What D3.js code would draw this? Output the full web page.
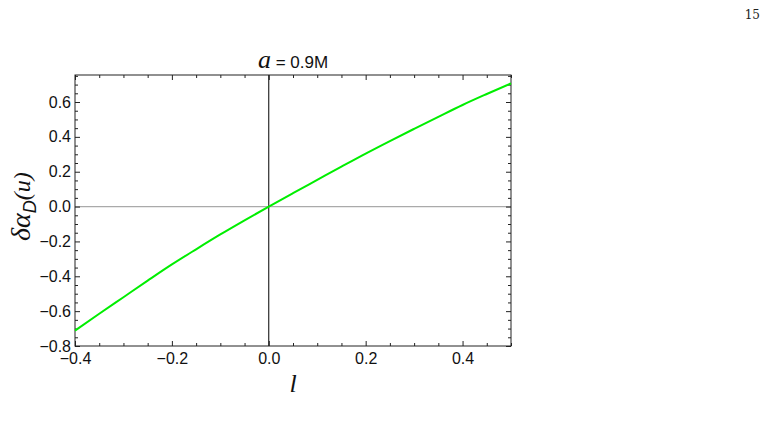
<!DOCTYPE html>
<html>
<head>
<meta charset="utf-8">
<script src="https://cdn.jsdelivr.net/npm/d3@7"></script>
<style>
  body { margin: 0; background: #fff; }
  .axis path { display: none; }
  .axis line { stroke: #222; }
</style>
</head>
<body>
<div id="chart"></div>
<script>
// values
const lValues = [-0.4, -0.35, -0.3, -0.25, -0.2, -0.15, -0.1, -0.05, 0,
                 0.05, 0.1, 0.15, 0.2, 0.25, 0.3, 0.35, 0.4, 0.45, 0.5];
const deltaAlpha = [-0.712, -0.615, -0.520, -0.425, -0.332, -0.245, -0.160, -0.079, 0,
                    0.077, 0.153, 0.229, 0.304, 0.376, 0.446, 0.515, 0.583, 0.646, 0.707];
const xTicks = [-0.4, -0.2, 0.0, 0.2, 0.4];
const yTicks = [-0.8, -0.6, -0.4, -0.2, 0.0, 0.2, 0.4, 0.6];

const width = 777, height = 422;
const margin = { top: 75, right: 266, bottom: 76, left: 75 };

const svg = d3.select("#chart")
  .append("svg")
  .attr("width", width)
  .attr("height", height);

const x = d3.scaleLinear()
  .domain([-0.4, 0.5])
  .range([margin.left, width - margin.right]);

const y = d3.scaleLinear()
  .domain([-0.8, 0.755])
  .range([height - margin.bottom, margin.top]);

const fmt = d => (d < 0 ? "\u2212" : "") + Math.abs(d).toFixed(1);
const xMinor = d3.range(-0.4, 0.5001, 0.05).filter(v => !xTicks.some(t => Math.abs(t - v) < 1e-6));
const yMinor = d3.range(-0.8, 0.7501, 0.05).filter(v => !yTicks.some(t => Math.abs(t - v) < 1e-6));

// zero lines
svg.append("line")
  .attr("x1", x(-0.4)).attr("x2", x(0.5))
  .attr("y1", y(0)).attr("y2", y(0))
  .attr("stroke", "#aaa").attr("stroke-width", 1.2);
svg.append("line")
  .attr("x1", x(0)).attr("x2", x(0))
  .attr("y1", y(-0.8)).attr("y2", y(0.755))
  .attr("stroke", "#000").attr("stroke-width", 1);

// axes (ticks pointing inwards, like a Mathematica frame)
const yBottom = height - margin.bottom, yTop = margin.top;
const xLeft = margin.left, xRight = width - margin.right;

const styleLabels = g => g.selectAll(".tick text")
  .attr("font-family", "Liberation Sans, Arial, sans-serif")
  .attr("font-size", 16)
  .attr("fill", "#111");

svg.append("g").attr("class", "axis")
  .attr("transform", `translate(0,${yBottom})`)
  .call(d3.axisBottom(x).tickValues(xTicks).tickFormat(fmt).tickSizeInner(-5).tickPadding(7))
  .call(styleLabels);
svg.append("g").attr("class", "axis")
  .attr("transform", `translate(0,${yBottom})`)
  .call(d3.axisBottom(x).tickValues(xMinor).tickFormat("").tickSizeInner(-3));
svg.append("g").attr("class", "axis")
  .attr("transform", `translate(0,${yTop})`)
  .call(d3.axisTop(x).tickValues(xTicks).tickFormat("").tickSizeInner(-5));
svg.append("g").attr("class", "axis")
  .attr("transform", `translate(0,${yTop})`)
  .call(d3.axisTop(x).tickValues(xMinor).tickFormat("").tickSizeInner(-3));

svg.append("g").attr("class", "axis")
  .attr("transform", `translate(${xLeft},0)`)
  .call(d3.axisLeft(y).tickValues(yTicks).tickFormat(fmt).tickSizeInner(-5).tickPadding(4))
  .call(styleLabels);
svg.append("g").attr("class", "axis")
  .attr("transform", `translate(${xLeft},0)`)
  .call(d3.axisLeft(y).tickValues(yMinor).tickFormat("").tickSizeInner(-3));
svg.append("g").attr("class", "axis")
  .attr("transform", `translate(${xRight},0)`)
  .call(d3.axisRight(y).tickValues(yTicks).tickFormat("").tickSizeInner(-5));
svg.append("g").attr("class", "axis")
  .attr("transform", `translate(${xRight},0)`)
  .call(d3.axisRight(y).tickValues(yMinor).tickFormat("").tickSizeInner(-3));

// frame
svg.append("rect")
  .attr("x", xLeft).attr("y", yTop)
  .attr("width", xRight - xLeft).attr("height", yBottom - yTop)
  .attr("fill", "none").attr("stroke", "#222").attr("stroke-width", 1);

// curve
const line = d3.line()
  .x((d, i) => x(lValues[i]))
  .y(d => y(d))
  .curve(d3.curveMonotoneX);

svg.append("path")
  .datum(deltaAlpha)
  .attr("fill", "none")
  .attr("stroke", "#00ee00")
  .attr("stroke-width", 2)
  .attr("d", line);

// title
const title = svg.append("text")
  .attr("x", (xLeft + xRight) / 2).attr("y", 68)
  .attr("text-anchor", "middle")
  .attr("font-family", "Liberation Sans, Arial, sans-serif")
  .attr("font-size", 17).attr("fill", "#111");
title.append("tspan")
  .attr("font-family", "Liberation Serif, serif")
  .attr("font-style", "italic").attr("font-size", 26).text("a");
title.append("tspan").text(" = 0.9M");

// y label
const ylab = svg.append("text")
  .attr("transform", `translate(30,${y(0)}) rotate(-90)`)
  .attr("text-anchor", "middle")
  .attr("font-family", "Liberation Serif, serif")
  .attr("font-style", "italic")
  .attr("font-size", 28).attr("fill", "#111");
ylab.append("tspan").text("\u03b4\u03b1");
ylab.append("tspan")
  .attr("font-family", "Liberation Sans, Arial, sans-serif")
  .attr("font-size", 18).attr("dy", 6).text("D");
ylab.append("tspan").attr("dy", -6).attr("font-size", 24).text("(u)");

// x label
svg.append("text")
  .attr("x", (xLeft + xRight) / 2).attr("y", 392)
  .attr("text-anchor", "middle")
  .attr("font-family", "Liberation Serif, serif")
  .attr("font-style", "italic")
  .attr("font-size", 26).attr("fill", "#111")
  .text("l");

// page number
svg.append("text")
  .attr("x", 760).attr("y", 19)
  .attr("text-anchor", "end")
  .attr("font-family", "DejaVu Serif, Liberation Serif, serif")
  .attr("font-size", 12).attr("fill", "#222")
  .text("15");
</script>
</body>
</html>
